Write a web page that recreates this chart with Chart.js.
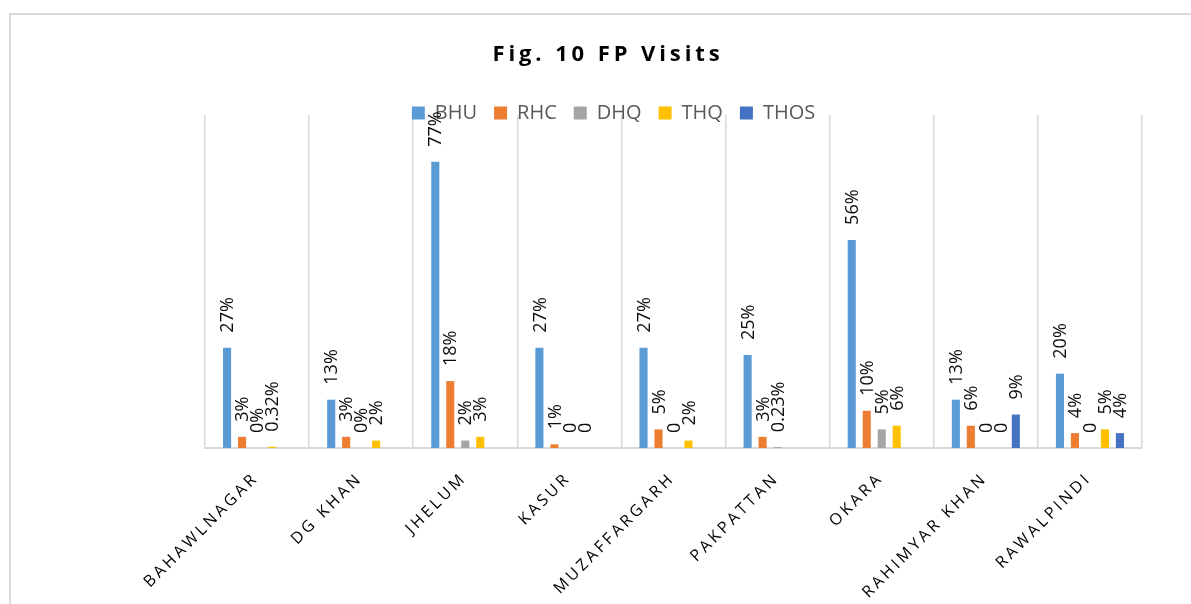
<!DOCTYPE html>
<html>
<title>Fig. 10 FP Visits</title>

<body>
  <div id="frame"></div>
  <canvas id="fp_visits" width="1191" height="604"></canvas>

  <style>
    body {
      margin: 0;
      background: #fff;
      overflow: hidden;
    }

    #frame {
      position: absolute;
      left: 9px;
      top: 13px;
      width: 1300px;
      height: 700px;
      border-left: 2px solid #d9d9d9;
      border-top: 2px solid #d9d9d9;
    }

    #fp_visits {
      position: absolute;
      left: 0;
      top: 0;
    }
  </style>

  <script src="https://cdn.jsdelivr.net/npm/chart.js@4.4.1/dist/chart.umd.min.js"></script>

  <script>
    // data
    const districts = ["BAHAWLNAGAR", "DG KHAN", "JHELUM", "KASUR", "MUZAFFARGARH", "PAKPATTAN", "OKARA", "RAHIMYAR KHAN", "RAWALPINDI"];

    const bhu = [27, 13, 77, 27, 27, 25, 56, 13, 20];
    const rhc = [3, 3, 18, 1, 5, 3, 10, 6, 4];
    const dhq = [0, 0, 2, 0, 0, 0.23, 5, 0, 0];
    const thq = [0.32, 2, 3, 0, 2, null, 6, 0, 5];
    const thos = [null, null, null, null, null, null, null, 9, 4];

    // data labels as printed above the bars
    const bhuLabels = ["27%", "13%", "77%", "27%", "27%", "25%", "56%", "13%", "20%"];
    const rhcLabels = ["3%", "3%", "18%", "1%", "5%", "3%", "10%", "6%", "4%"];
    const dhqLabels = ["0%", "0%", "2%", "0", "0", "0.23%", "5%", "0", "0"];
    const thqLabels = ["0.32%", "2%", "3%", "0", "2%", null, "6%", "0", "5%"];
    const thosLabels = [null, null, null, null, null, null, null, "9%", "4%"];

    const FONT = "'Open Sans', 'Noto Sans', sans-serif";

    // legend overlaps the top of the plot, so let its clip box reach lower
    const legendOverlap = {
      id: "legendOverlap",
      afterLayout(chart) {
        if (chart.legend) {
          chart.legend.bottom = chart.legend.top + 50;
          chart.legend.height = 50;
        }
      }
    };

    // rotated value labels on top of each bar
    const barLabels = {
      id: "barLabels",
      afterDatasetsDraw(chart) {
        const ctx = chart.ctx;
        ctx.save();
        ctx.font = `18px ${FONT}`;
        ctx.fillStyle = "#0d0d0d";
        ctx.textAlign = "left";
        ctx.textBaseline = "middle";
        chart.data.datasets.forEach((ds, i) => {
          const meta = chart.getDatasetMeta(i);
          meta.data.forEach((bar, j) => {
            const text = ds.valueLabels[j];
            if (text === null || text === undefined) return;
            ctx.save();
            ctx.translate(bar.x + 1, bar.y - 15);
            ctx.rotate(-Math.PI / 2);
            ctx.fillText(text, 0, 0);
            ctx.restore();
          });
        });
        ctx.restore();
      }
    };

    // spaced title and slanted district names
    const decorations = {
      id: "decorations",
      afterDraw(chart) {
        const ctx = chart.ctx;
        const x = chart.scales.x;

        ctx.save();
        ctx.font = `bold 22px ${FONT}`;
        ctx.fillStyle = "#000";
        ctx.textAlign = "center";
        ctx.textBaseline = "alphabetic";
        ctx.letterSpacing = "3.9px";
        ctx.fillText("Fig. 10 FP Visits", 608, 61);
        ctx.restore();

        ctx.save();
        ctx.font = `16px ${FONT}`;
        ctx.fillStyle = "#000";
        ctx.textAlign = "right";
        ctx.textBaseline = "alphabetic";
        ctx.letterSpacing = "3.2px";
        districts.forEach((name, i) => {
          ctx.save();
          ctx.translate(x.getPixelForValue(i), x.bottom + 33);
          ctx.rotate(-Math.PI / 4);
          ctx.fillText(name, 3, 0);
          ctx.restore();
        });
        ctx.restore();
      }
    };

    const series = [
      {label: "BHU", data: bhu, valueLabels: bhuLabels, color: "#5B9BD5"},
      {label: "RHC", data: rhc, valueLabels: rhcLabels, color: "#ED7D31"},
      {label: "DHQ", data: dhq, valueLabels: dhqLabels, color: "#A5A5A5"},
      {label: "THQ", data: thq, valueLabels: thqLabels, color: "#FFC000"},
      {label: "THOS", data: thos, valueLabels: thosLabels, color: "#4472C4"},
    ];

    new Chart(document.getElementById("fp_visits"), {
      type: "bar",
      data: {
        labels: districts,
        datasets: series.map(s => ({
          label: s.label,
          data: s.data,
          valueLabels: s.valueLabels,
          backgroundColor: s.color,
          borderWidth: 0,
          categoryPercentage: 0.72,
          barPercentage: 0.54
        }))
      },
      options: {
        responsive: false,
        animation: false,
        devicePixelRatio: 1,
        layout: {
          padding: {left: 85, right: 49, top: 86, bottom: 156}
        },
        plugins: {
          title: {display: false},
          tooltip: {enabled: false},
          legend: {
            position: "top",
            align: "center",
            maxHeight: 29,
            labels: {
              boxWidth: 13,
              boxHeight: 13,
              padding: 17,
              color: "#595959",
              font: {family: FONT, size: 20}
            }
          }
        },
        scales: {
          x: {
            grid: {
              color: "#d9d9d9",
              lineWidth: 1.5,
              drawTicks: false,
              offset: true
            },
            border: {color: "#d9d9d9", width: 2},
            ticks: {display: false}
          },
          y: {
            min: 0,
            max: 89.6,
            grid: {display: false},
            border: {display: false},
            ticks: {display: false},
            afterFit(scale) {
              scale.width = 120;
            }
          }
        }
      },
      plugins: [legendOverlap, barLabels, decorations]
    });
  </script>

</body>

</html>
